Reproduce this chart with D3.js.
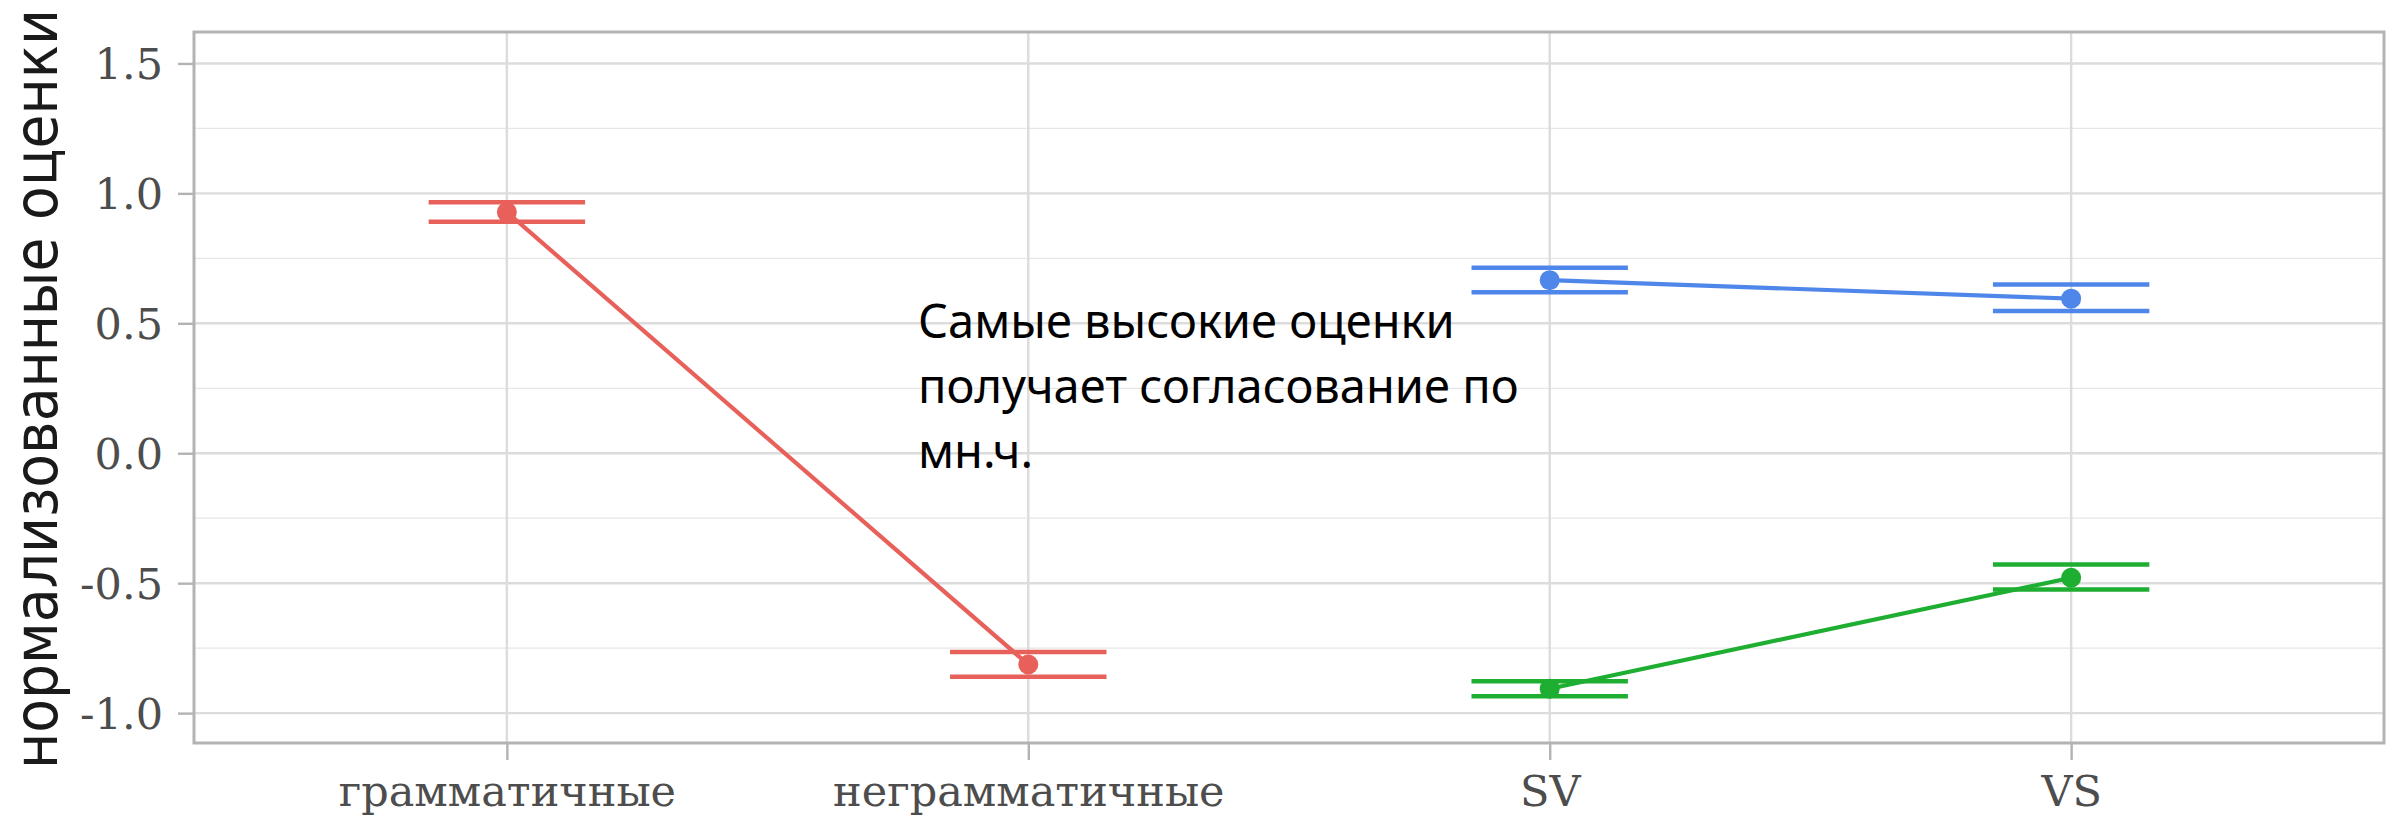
<!DOCTYPE html>
<html lang="ru">
<head>
  <meta charset="utf-8">
  <title>нормализованные оценки</title>
  <script src="https://d3js.org/d3.v7.min.js"></script>
  <style>
    * { box-sizing: border-box; margin: 0; padding: 0; }
    html, body { width: 2400px; height: 819px; background: #fff; overflow: hidden; }
    svg { display: block; }
  </style>
</head>
<body>
<svg id="chart" width="2400" height="819"></svg>
<script>
// data
const categories = ["грамматичные", "неграмматичные", "SV", "VS"];
const yTicks = [-1.0, -0.5, 0.0, 0.5, 1.0, 1.5];
const yMinor = [-0.75, -0.25, 0.25, 0.75, 1.25];

const redX = ["грамматичные", "неграмматичные"];
const redMean = [0.928, -0.813];
const redLo = [0.891, -0.860];
const redHi = [0.966, -0.765];

const blueX = ["SV", "VS"];
const blueMean = [0.666, 0.595];
const blueLo = [0.620, 0.547];
const blueHi = [0.714, 0.649];

const greenX = ["SV", "VS"];
const greenMean = [-0.906, -0.479];
const greenLo = [-0.935, -0.524];
const greenHi = [-0.877, -0.428];

const yTitle = "нормализованные оценки";
const note = ["Самые высокие оценки", "получает согласование по", "мн.ч."];

const series = [
  { color: "#e8605a", x: redX, mean: redMean, lo: redLo, hi: redHi },
  { color: "#4f86ea", x: blueX, mean: blueMean, lo: blueLo, hi: blueHi },
  { color: "#1eae31", x: greenX, mean: greenMean, lo: greenLo, hi: greenHi }
];

const panel = { left: 194, right: 2384, top: 32, bottom: 743 };
const svg = d3.select("#chart");

const x = d3.scalePoint()
  .domain(categories)
  .range([panel.left, panel.right])
  .padding(0.6);

const y = d3.scaleLinear()
  .domain([-1.115, 1.621])
  .range([panel.bottom, panel.top]);

const serif = "'DejaVu Serif', serif";

// grid
const grid = svg.append("g");
grid.selectAll(".minor").data(yMinor).join("line")
  .attr("x1", panel.left).attr("x2", panel.right)
  .attr("y1", d => y(d)).attr("y2", d => y(d))
  .attr("stroke", "#e6e6e6").attr("stroke-width", 1.3);
grid.selectAll(".major").data(yTicks).join("line")
  .attr("x1", panel.left).attr("x2", panel.right)
  .attr("y1", d => y(d)).attr("y2", d => y(d))
  .attr("stroke", "#dcdcdc").attr("stroke-width", 2.4);
grid.selectAll(".vmajor").data(categories).join("line")
  .attr("x1", d => x(d)).attr("x2", d => x(d))
  .attr("y1", panel.top).attr("y2", panel.bottom)
  .attr("stroke", "#dcdcdc").attr("stroke-width", 2.4);

// axes
const yAxis = svg.append("g")
  .attr("transform", `translate(${panel.left},0)`)
  .call(d3.axisLeft(y).tickValues(yTicks).tickFormat(d => d.toFixed(1)).tickSize(16).tickPadding(15));
const xAxis = svg.append("g")
  .attr("transform", `translate(0,${panel.bottom})`)
  .call(d3.axisBottom(x).tickSize(17).tickPadding(14));

[yAxis, xAxis].forEach(a => {
  a.select(".domain").remove();
  a.selectAll(".tick line").attr("stroke", "#b3b3b3").attr("stroke-width", 2.4);
  a.selectAll(".tick text")
    .attr("fill", "#4d4d4d")
    .style("font-family", serif)
    .style("font-size", "43px");
});
yAxis.selectAll(".tick text").attr("dy", "0.36em");
xAxis.selectAll(".tick text").attr("dy", "0.75em");

// error bars, lines, points
const halfW = x.step() * 0.15;
series.forEach(s => {
  const g = svg.append("g");
  const rows = s.x.map((c, i) => ({ c, m: s.mean[i], lo: s.lo[i], hi: s.hi[i] }));
  rows.forEach(r => {
    [r.lo, r.hi].forEach(v => {
      g.append("line")
        .attr("x1", x(r.c) - halfW).attr("x2", x(r.c) + halfW)
        .attr("y1", y(v)).attr("y2", y(v))
        .attr("stroke", s.color).attr("stroke-width", 4.5);
    });
  });
  g.append("path")
    .datum(rows)
    .attr("d", d3.line().x(r => x(r.c)).y(r => y(r.m)))
    .attr("fill", "none")
    .attr("stroke", s.color)
    .attr("stroke-width", 4.2);
  g.selectAll("circle").data(rows).join("circle")
    .attr("cx", r => x(r.c)).attr("cy", r => y(r.m))
    .attr("r", 10)
    .attr("fill", s.color);
});

// panel border
svg.append("rect")
  .attr("x", panel.left).attr("y", panel.top)
  .attr("width", panel.right - panel.left)
  .attr("height", panel.bottom - panel.top)
  .attr("fill", "none")
  .attr("stroke", "#b3b3b3")
  .attr("stroke-width", 3);

// y title
svg.append("text")
  .attr("transform", `translate(57,${(8 + 770) / 2}) rotate(-90)`)
  .attr("text-anchor", "middle")
  .attr("textLength", 760)
  .attr("lengthAdjust", "spacingAndGlyphs")
  .attr("fill", "#1a1a1a")
  .style("font-family", "'DejaVu Sans', sans-serif")
  .style("font-stretch", "condensed")
  .style("font-size", "60px")
  .text(yTitle);

// annotation
svg.append("g").selectAll("text").data(note).join("text")
  .attr("x", 918)
  .attr("y", (d, i) => y(0.5 - 0.25 * i) + 15)
  .attr("fill", "#000")
  .style("font-family", "'Noto Sans', sans-serif")
  .style("font-size", "47px")
  .text(d => d);
</script>
</body>
</html>
